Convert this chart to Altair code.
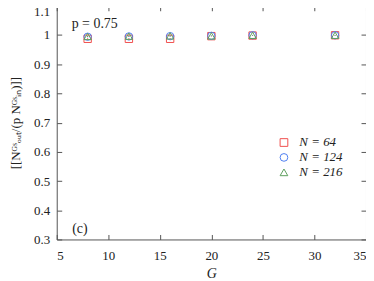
import altair as alt
import pandas as pd

G = [8, 12, 16, 20, 24, 32]
n64 = [0.987, 0.987, 0.987, 0.996, 0.998, 0.999]
n124 = [0.994, 0.995, 0.996, 0.997, 0.999, 0.999]
n216 = [0.995, 0.996, 0.997, 0.997, 0.999, 0.999]
err = [0.002, 0.002, 0.002, 0.001, 0.001, 0.001]
series = ["N = 64", "N = 124", "N = 216"]
colors = ["#f0504f", "#4f7ff0", "#5f9f5f"]
shapes = ["square", "circle", "triangle-up"]
x_ticks = [5, 10, 15, 20, 25, 30, 35]
y_ticks = [0.3, 0.4, 0.5, 0.6, 0.7, 0.8, 0.9, 1.0, 1.1]
ann_text = ["p = 0.75", "(c)"]
ann_g = [6.45, 6.5]
ann_val = [1.038, 0.337]

rows = []
for name, vals in zip(series, [n64, n124, n216]):
    for g, v, e in zip(G, vals, err):
        rows.append({"G": g, "val": v, "lo": v - e, "hi": v + e, "series": name})
df = pd.DataFrame(rows)

FONT = "Liberation Serif"

xs = alt.Scale(domain=[5, 35], nice=False)
ys = alt.Scale(domain=[0.3, 1.1], nice=False)

def ax(orient, labels=True, title=None, fmt=None, vals=None, **extra):
    kw = dict(orient=orient, values=vals, tickSize=5, offset=-5, domain=False,
              grid=False, tickColor="#555", labels=labels, labelFont=FONT,
              labelFontSize=13, labelColor="#222", labelPadding=7,
              titleFont=FONT, titleFontSize=14, titleFontWeight="normal",
              titleColor="#222")
    kw.update(extra)
    if fmt:
        kw["format"] = fmt
    kw["title"] = title if title is not None else None
    return alt.Axis(**kw)

cscale = alt.Scale(domain=series, range=colors)
sscale = alt.Scale(domain=series, range=shapes)

base = alt.Chart(df)

pts = base.mark_point(filled=False, size=55, strokeWidth=1, opacity=1).encode(
    x=alt.X("G:Q", scale=xs,
            axis=ax("bottom", title="G", vals=x_ticks, labelPadding=10,
                    titlePadding=4, titleFontStyle="italic")),
    y=alt.Y("val:Q", scale=ys,
            axis=ax("left", title="[[Nᴳˢₒᵤₜ/(p Nᴳˢᵢₙ)]]", vals=y_ticks,
                    fmt="~g", titlePadding=11, titleFontSize=13,
                    labelOffset={"condition": {"test": "datum.value > 1.05",
                                               "value": 6}, "value": 0})),
    color=alt.Color("series:N", scale=cscale, sort=series,
                    legend=alt.Legend(title=None, orient="none", legendX=222,
                                      legendY=131, labelFont=FONT,
                                      labelFontSize=13, labelFontStyle="italic",
                                      labelColor="#222", symbolStrokeWidth=1,
                                      symbolSize=60, rowPadding=1, labelOffset=9,
                                      symbolFillColor="transparent")),
    shape=alt.Shape("series:N", scale=sscale, sort=series),
)

bars = base.mark_rule(strokeWidth=1).encode(
    x=alt.X("G:Q", scale=xs, axis=None),
    y=alt.Y("lo:Q", scale=ys, axis=None), y2="hi:Q",
    color=alt.Color("series:N", scale=cscale, sort=series),
)

mirror = base.mark_point(opacity=0).encode(
    x=alt.X("G:Q", scale=xs, axis=ax("top", labels=False, vals=x_ticks)),
    y=alt.Y("val:Q", scale=ys, axis=ax("right", labels=False, vals=y_ticks)),
)

labels_df = pd.DataFrame({"ax": ann_g, "ay": ann_val, "txt": ann_text})
txt = alt.Chart(labels_df).mark_text(align="left", baseline="middle", font=FONT,
                                      fontSize=14, color="#222").encode(
    x=alt.X("ax:Q", scale=xs, axis=None), y=alt.Y("ay:Q", scale=ys, axis=None),
    text="txt:N")

chart = alt.layer(bars, pts, txt, mirror).resolve_axis(
    x="independent", y="independent"
).properties(
    width=311, height=235,
    autosize=alt.AutoSizeParams(type="none"),
    padding={"left": 49, "top": -3, "right": 0, "bottom": 40},
).configure_view(stroke="#555", strokeWidth=1)

chart.save("out.html", embed_options={"renderer": "svg", "actions": False})
